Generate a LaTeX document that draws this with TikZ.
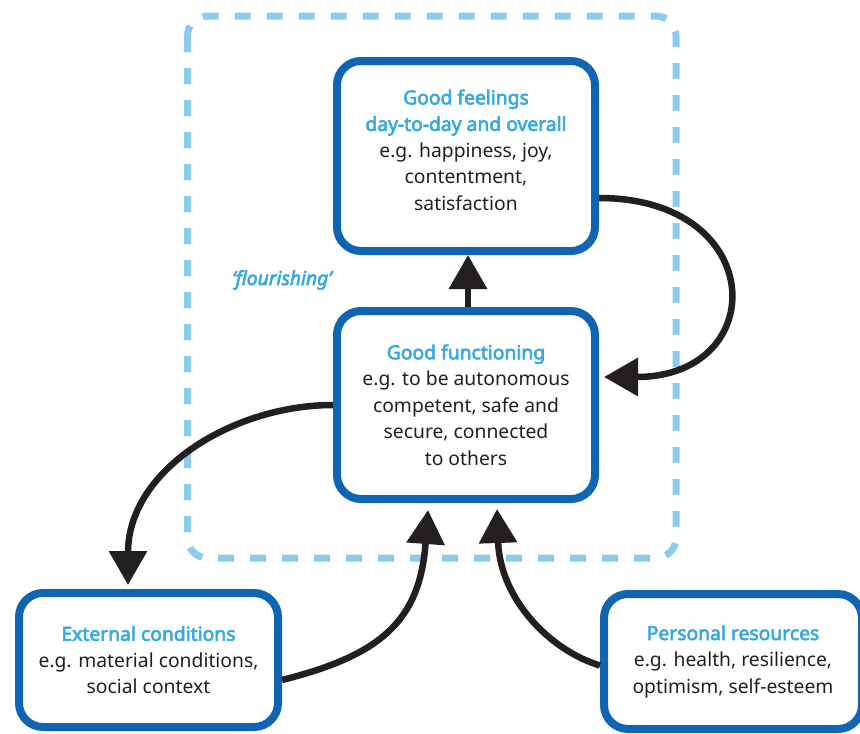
\documentclass[tikz,border=0pt]{standalone}
\usepackage{fontspec}
\setmainfont{Noto Sans}[AutoFakeBold=3]
\usetikzlibrary{arrows.meta}
\definecolor{boxblue}{HTML}{0F64B4}
\definecolor{lightblue}{HTML}{36A9E1}
\definecolor{dashblue}{HTML}{8DCBEE}
\definecolor{arrowdark}{HTML}{231F20}
\begin{document}
\begin{tikzpicture}[x=1pt,y=-1pt,
  box/.style={draw=boxblue, line width=8pt, rounded corners=24pt, fill=white,
    align=center, inner sep=0pt, minimum width=258pt, text=arrowdark,
    font=\fontsize{19.3}{26.5}\selectfont},
  conn/.style={draw=arrowdark, line width=6.5pt, -{Triangle[length=34pt,width=37pt]}},
  frame/.style={draw=dashblue, line width=7pt, dash pattern=on 16pt off 16pt, rounded corners=20pt}]
\useasboundingbox (0,0) rectangle (860,734);
\clip (0,0) rectangle (860,734);
\newcommand{\hd}[1]{{\color{lightblue}\bfseries #1}}
% flourishing frame
\draw[frame] (187.5,16) rectangle (676,558);
\node[text=lightblue, font=\fontsize{19.3}{22}\selectfont\itshape\addfontfeatures{FakeBold=3}] (flour) at (282,280) {‘flourishing’};
% boxes
\node[box, minimum height=190pt] (feel) at (466,156)
  {\hd{Good feelings}\\\hd{day-to-day and overall}\\e.g. happiness, joy,\\contentment,\\satisfaction\\[-14.5pt]\mbox{}};
\node[box, minimum height=188pt] (func) at (466,405)
  {\hd{Good functioning}\\e.g. to be autonomous\\competent, safe and\\secure, connected\\to others};
\node[box, minimum width=259pt, minimum height=134pt] (ext) at (148.5,660)
  {\hd{External conditions}\\e.g. material conditions,\\social context};
\node[box, minimum height=135pt] (pers) at (733,661.5)
  {\hd{Personal resources}\\e.g. health, resilience,\\optimism, self-esteem};
% connectors
\draw[conn] ([xshift=2pt]func.north) -- ([xshift=2pt]feel.south);
\draw[conn] ([yshift=-42pt]feel.east) .. controls +(170,0) and +(167,0) .. ([xshift=5pt,yshift=28pt]func.east);
\draw[conn] (func.west) .. controls +(-100,0) and +(0,-115) .. ([xshift=-20.5pt,yshift=4pt]ext.north);
\draw[conn] ([yshift=-20pt]ext.east) .. controls +(100,-25) and +(-8,110) .. ([xshift=-38pt,yshift=-7pt]func.south);
\draw[conn] ([yshift=-4pt]pers.west) .. controls +(-50,-15) and +(3,90) .. ([xshift=31pt,yshift=-6pt]func.south);
\end{tikzpicture}
\end{document}
